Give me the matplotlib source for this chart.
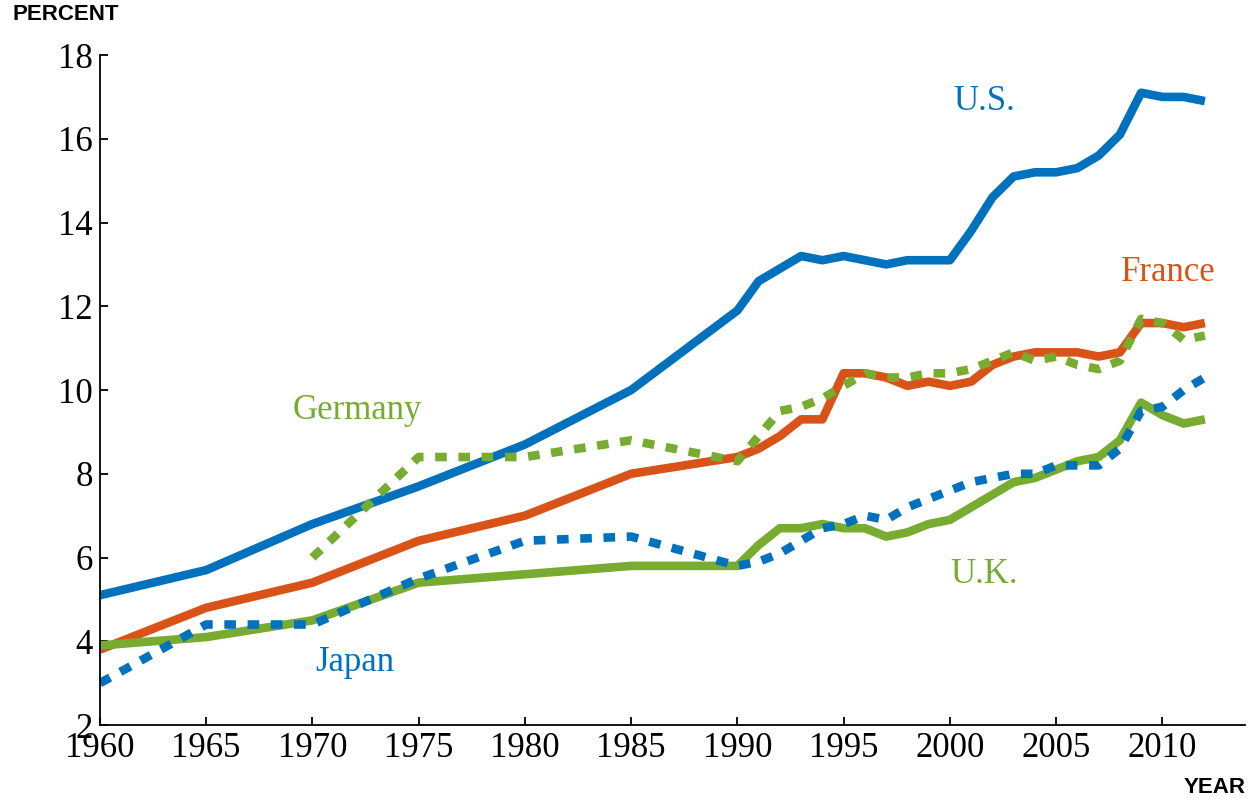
"""
Health expenditure share of GDP, five countries, 1960-2012
"""

import matplotlib.pyplot as plt
import numpy as np

#---------------------------------------------------------------------------------------------------
# Data
#---------------------------------------------------------------------------------------------------

years_early = [1960, 1965, 1970, 1975, 1980, 1985]
years_late = list(range(1990, 2013))
years = years_early + years_late

us = [5.1, 5.7, 6.8, 7.7, 8.7, 10.0,
      11.9, 12.6, 12.9, 13.2, 13.1, 13.2, 13.1, 13.0, 13.1, 13.1, 13.1, 13.8, 14.6, 15.1,
      15.2, 15.2, 15.3, 15.6, 16.1, 17.1, 17.0, 17.0, 16.9]
france = [3.8, 4.8, 5.4, 6.4, 7.0, 8.0,
          8.4, 8.6, 8.9, 9.3, 9.3, 10.4, 10.4, 10.3, 10.1, 10.2, 10.1, 10.2, 10.6, 10.8,
          10.9, 10.9, 10.9, 10.8, 10.9, 11.6, 11.6, 11.5, 11.6]
uk = [3.9, 4.1, 4.5, 5.4, 5.6, 5.8,
      5.8, 6.3, 6.7, 6.7, 6.8, 6.7, 6.7, 6.5, 6.6, 6.8, 6.9, 7.2, 7.5, 7.8,
      7.9, 8.1, 8.3, 8.4, 8.8, 9.7, 9.4, 9.2, 9.3]
japan = [3.0, 4.4, 4.4, 5.5, 6.4, 6.5,
         5.8, 5.9, 6.1, 6.4, 6.7, 6.8, 7.0, 6.9, 7.2, 7.4, 7.6, 7.8, 7.9, 8.0,
         8.0, 8.2, 8.2, 8.2, 8.6, 9.5, 9.6, 10.0, 10.3]

years_germany = [1970, 1975, 1980, 1985] + years_late
germany = [6.0, 8.4, 8.4, 8.8,
           8.3, 8.9, 9.5, 9.6, 9.8, 10.1, 10.4, 10.3, 10.3, 10.4, 10.4, 10.5, 10.7, 10.9,
           10.7, 10.8, 10.6, 10.5, 10.7, 11.7, 11.6, 11.2, 11.3]

x_ticks = [1960, 1965, 1970, 1975, 1980, 1985, 1990, 1995, 2000, 2005, 2010]
y_ticks = [2, 4, 6, 8, 10, 12, 14, 16, 18]

#---------------------------------------------------------------------------------------------------
# Make Plot
#---------------------------------------------------------------------------------------------------

blue = '#0072BD'
orange = '#D95319'
green = '#77AC30'
serif = 'Liberation Serif'
lw = 6.2
dots = (0, (1.35, 1.35))

fig = plt.figure(figsize=(12.49, 7.99), dpi=100)
ax = fig.add_axes([0.080, 0.0926, 0.917, 0.8385])

ax.plot(years, us, c=blue, lw=lw, solid_capstyle='butt')
ax.plot(years, france, c=orange, lw=lw, solid_capstyle='butt')
ax.plot(years, uk, c=green, lw=lw, solid_capstyle='butt')
ax.plot(years, japan, c=blue, lw=lw, ls=dots, dash_capstyle='butt')
ax.plot(years_germany, germany, c=green, lw=lw, ls=dots, dash_capstyle='butt')

ax.set_xlim(1960, 2013.9)
ax.set_ylim(2, 18)
ax.set_xticks(x_ticks)
ax.set_yticks(y_ticks)
ax.spines['top'].set_visible(False)
ax.spines['right'].set_visible(False)
for s in ['left', 'bottom']:
    ax.spines[s].set_linewidth(1.3)
ax.tick_params(direction='in', length=6, width=1.3, labelsize=25, pad=5)
for lab in ax.get_xticklabels() + ax.get_yticklabels():
    lab.set_fontfamily(serif)

# Series labels
ax.text(2001.6, 16.9, 'U.S.', color=blue, fontsize=25, family=serif, ha='center', va='center')
ax.text(2010.3, 12.8, 'France', color=orange, fontsize=25, family=serif, ha='center', va='center')
ax.text(1972.1, 9.5, 'Germany', color=green, fontsize=25, family=serif, ha='center', va='center')
ax.text(2001.6, 5.6, 'U.K.', color=green, fontsize=25, family=serif, ha='center', va='center')
ax.text(1972.0, 3.5, 'Japan', color=blue, fontsize=25, family=serif, ha='center', va='center')

fig.text(0.010, 0.982, 'PERCENT', fontsize=16, fontweight='bold', family='Liberation Sans',
         ha='left', va='center')
fig.text(0.997, 0.015, 'YEAR', fontsize=16, fontweight='bold', family='Liberation Sans',
         ha='right', va='center')

plt.savefig('out.png', dpi=100)
plt.close()
